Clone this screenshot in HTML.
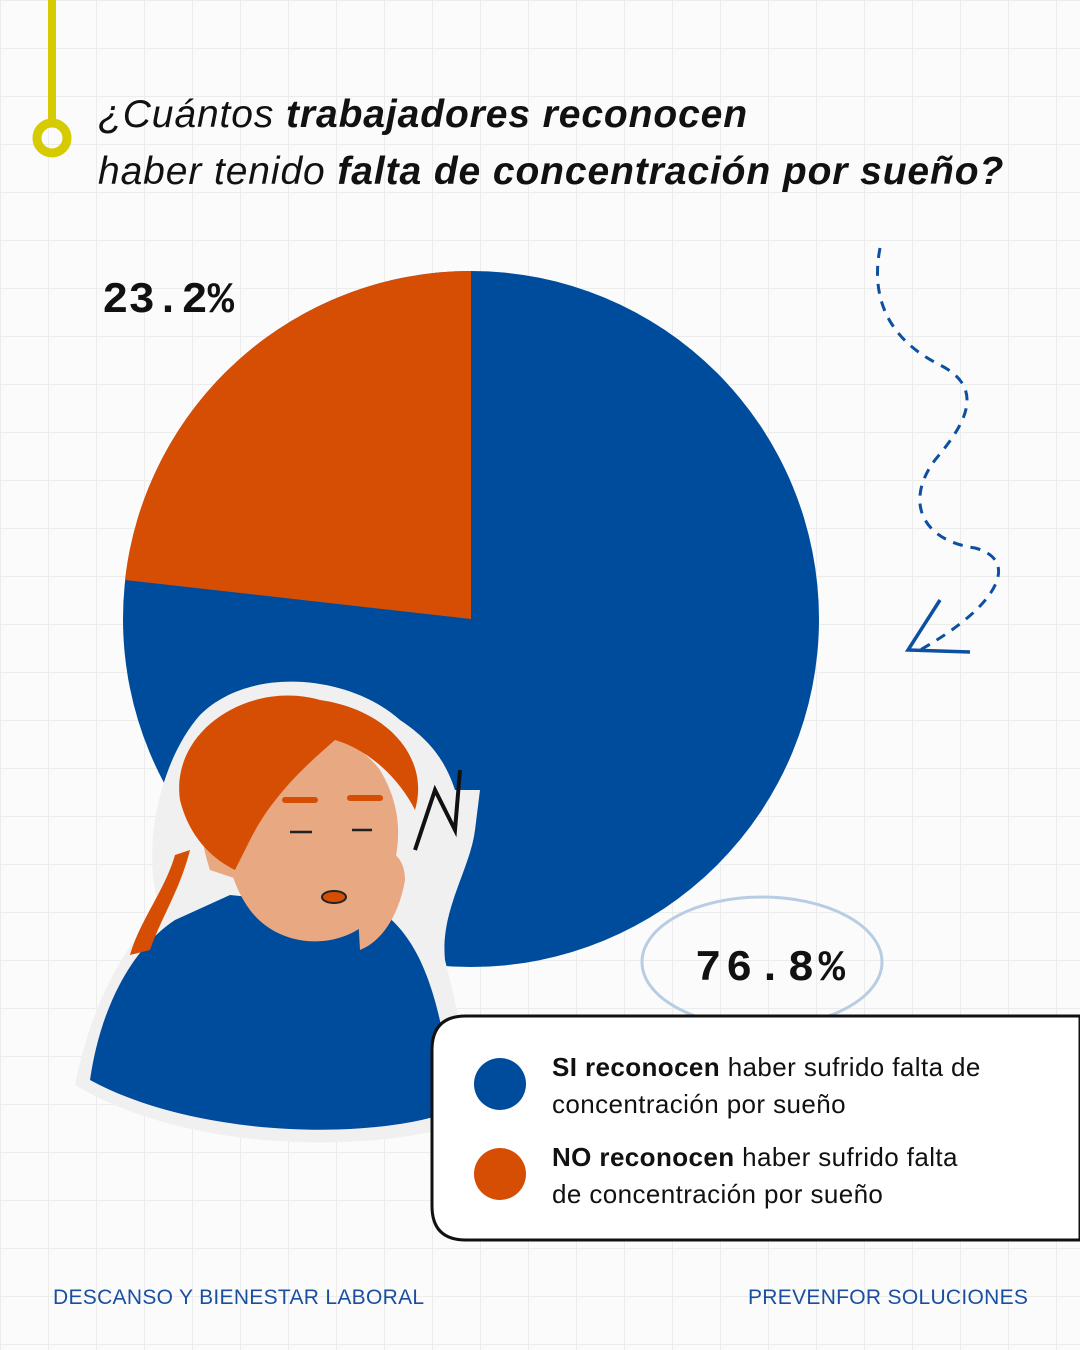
<!DOCTYPE html>
<html><head><meta charset="utf-8"><style>
body{margin:0}
#c{position:relative;width:1080px;height:1350px;overflow:hidden;background:#fbfbfb;
background-image:linear-gradient(#ececec 1px,transparent 1px),linear-gradient(90deg,#ececec 1px,transparent 1px);
background-size:48px 48px;font-family:"Liberation Sans",sans-serif}
.t{position:absolute;left:98px;font-size:39px;font-style:italic;color:#111;white-space:nowrap;letter-spacing:0.9px}
.f{position:absolute;color:#1a4fa0;font-size:21px;letter-spacing:0.3px}
.l{position:absolute;left:552px;font-size:26px;line-height:37px;color:#111;letter-spacing:0.4px}
</style></head><body><div id="c">
<svg width="1080" height="1350" style="position:absolute;left:0;top:0">
<line x1="52" y1="0" x2="52" y2="125" stroke="#d6cb00" stroke-width="8"/>
<circle cx="52" cy="138" r="15" fill="none" stroke="#d6cb00" stroke-width="9"/>
<circle cx="471" cy="619" r="348" fill="#004c9c"/>
<path d="M471 619 L471 271 A348 348 0 0 0 125 580 Z" fill="#d54e04"/>
<path d="M880 248 C870 300,890 340,940 365 C990 390,960 430,935 460 C905 500,920 540,975 548 C1020 560,1000 605,920 650" fill="none" stroke="#0d4fa0" stroke-width="3" stroke-dasharray="10 8"/>
<path d="M940 600 L908 650 L970 652" fill="none" stroke="#0d4fa0" stroke-width="3.5"/>
<ellipse cx="762" cy="962" rx="120" ry="65" fill="none" stroke="#b8cde4" stroke-width="3"/>
<path d="M75 1085 C90 1010,120 950,160 910 C140 850,160 760,200 715 C250 665,350 675,400 720 C430 740,445 760,455 790 L480 790 L475 830 C470 870,440 910,445 960 C455 1000,470 1060,470 1120 C400 1150,200 1160,75 1085Z" fill="#f0f0f0"/>
<path d="M90 1080 C100 1010,130 950,175 920 L230 895 L380 910 C420 940,440 990,455 1110 C380 1140,200 1140,90 1080Z" fill="#004c9c"/>
<path d="M250 750 C290 720,350 730,380 770 C410 820,400 870,370 920 C340 950,280 950,250 910 C220 870,215 800,250 750Z" fill="#e8a882"/>
<path d="M210 800 C230 830,235 860,240 880 L210 870 C200 840,200 820,210 800Z" fill="#e8a882"/>
<path d="M180 800 C170 730,250 680,320 700 C390 710,430 760,415 810 C400 780,370 750,335 740 C300 770,270 800,250 840 L235 870 C215 860,190 840,180 800Z" fill="#d54e04"/>
<path d="M190 850 C180 890,160 920,150 950 L130 955 C140 920,165 890,175 855Z" fill="#d54e04"/>
<path d="M355 860 C380 840,405 850,405 880 C400 910,385 940,360 950 Z" fill="#e8a882"/>
<path d="M285 800 L315 800 M350 798 L380 798" stroke="#d54e04" stroke-width="6" stroke-linecap="round"/>
<path d="M290 832 L312 832 M352 830 L372 830" stroke="#222" stroke-width="2.5"/>
<ellipse cx="334" cy="897" rx="12" ry="6" fill="#d54e04" stroke="#222" stroke-width="2"/>
<path d="M415 850 L435 790 L455 830 L460 770" fill="none" stroke="#111" stroke-width="4"/>
<text x="102" y="312" font-family="Liberation Mono" font-size="44" font-weight="bold" fill="#111">23.2%</text>
<text x="695" y="980" font-family="Liberation Mono" font-size="44" font-weight="bold" fill="#111" textLength="150">76.8%</text>
<path d="M432 1050 Q432 1016 466 1016 L1080 1016 L1080 1240 L466 1240 Q432 1240 432 1206 Z" fill="#fff" stroke="#111" stroke-width="3"/>
<circle cx="500" cy="1084" r="26" fill="#004c9c"/>
<circle cx="500" cy="1174" r="26" fill="#d54e04"/>
</svg>
<div class="t" style="top:93px">¿Cuántos <b>trabajadores reconocen</b></div>
<div class="t" style="top:150px">haber tenido <b>falta de concentración por sueño?</b></div>
<div class="l" style="top:1049px"><b>SI reconocen</b> haber sufrido falta de<br>concentración por sueño</div>
<div class="l" style="top:1139px"><b>NO reconocen</b> haber sufrido falta<br>de concentración por sueño</div>
<div class="f" style="left:53px;top:1286px">DESCANSO Y BIENESTAR LABORAL</div>
<div class="f" style="left:748px;top:1286px">PREVENFOR SOLUCIONES</div>
</div></body></html>
